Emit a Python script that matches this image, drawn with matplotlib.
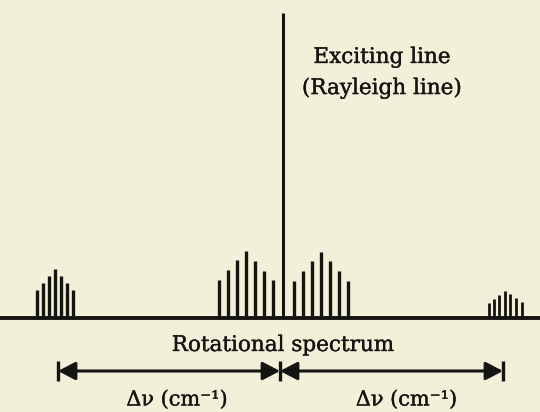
import numpy as np
import matplotlib
matplotlib.use('Agg')
import matplotlib.pyplot as plt
import matplotlib.patheffects as pe

# Raman rotational spectrum (schematic), shifts relative to Rayleigh line
rayleigh_height = 305

# far anti-Stokes side (left)
far_left_shift = [-246, -240, -234, -228, -222, -216, -210]
far_left_height = [28, 35, 42, 49, 42, 35, 28]

# near Stokes / anti-Stokes lines around the exciting line
near_left_shift = [-64, -55, -46, -37, -28, -19, -10]
near_left_height = [38, 48, 58, 67, 57, 47, 38]
near_right_shift = [11, 20, 29, 38, 47, 56, 65]
near_right_height = [37, 47, 57, 66, 57, 47, 37]

# far side (right)
far_right_shift = [206, 211, 216, 222, 227, 233, 239]
far_right_height = [15, 19, 23, 27, 24, 20, 16]

# delta-nu spans under the spectrum
span_left = [-225, -3]
span_right = [-3, 220]

ink = '#141410'
bg = '#f3f0da'
serif = ['DejaVu Serif']
bold_ink = [pe.withStroke(linewidth=0.25, foreground=ink)]  # scanned ink looks a bit heavier

fig = plt.figure(figsize=(5.4, 4.12), dpi=100)
fig.patch.set_facecolor(bg)
ax = fig.add_axes([0, 0, 1, 1])
ax.set_facecolor(bg)
ax.set_xlim(-283, 257)
ax.set_ylim(-94, 318)
ax.axis('off')

# baseline
ax.axhline(0, color=ink, lw=2.8)

lw_bar = 2.4
for xs, hs in [(far_left_shift, far_left_height),
               (near_left_shift, near_left_height),
               (near_right_shift, near_right_height)]:
    ax.vlines(xs, 0, hs, color=ink, lw=lw_bar)
ax.vlines(far_right_shift, 0, far_right_height, color=ink, lw=2.0)

# exciting (Rayleigh) line
ax.vlines([0], 0, rayleigh_height, color=ink, lw=2.2)

ax.text(99, 261, 'Exciting line', ha='center', va='center', fontsize=15.5,
        family=serif, color=ink, path_effects=bold_ink)
ax.text(99, 230, '(Rayleigh line)', ha='center', va='center', fontsize=15.5,
        family=serif, color=ink, path_effects=bold_ink)

ax.text(0, -27, 'Rotational spectrum', ha='center', va='center', fontsize=15.5,
        family=serif, color=ink, path_effects=bold_ink)

# span arrows
y_arr = -53
for a, b in [span_left, span_right]:
    ax.annotate('', xy=(a, y_arr), xytext=(b, y_arr),
                arrowprops=dict(arrowstyle='<|-|>,head_length=1.05,head_width=0.55',
                                mutation_scale=10, color=ink, lw=2.2,
                                shrinkA=0, shrinkB=0))
ax.plot([span_left[0], span_left[1], span_right[1]], [y_arr] * 3,
        ls='none', marker='|', ms=14, mew=2.4, color=ink)

ax.text(np.mean(span_left) + 8, -82, 'Δν (cm⁻¹)', ha='center', va='center',
        fontsize=15, family=serif, color=ink, path_effects=bold_ink)
ax.text(np.mean(span_right) + 15, -82, 'Δν (cm⁻¹)', ha='center', va='center',
        fontsize=15, family=serif, color=ink, path_effects=bold_ink)

fig.savefig('out.png', dpi=100, facecolor=bg)
